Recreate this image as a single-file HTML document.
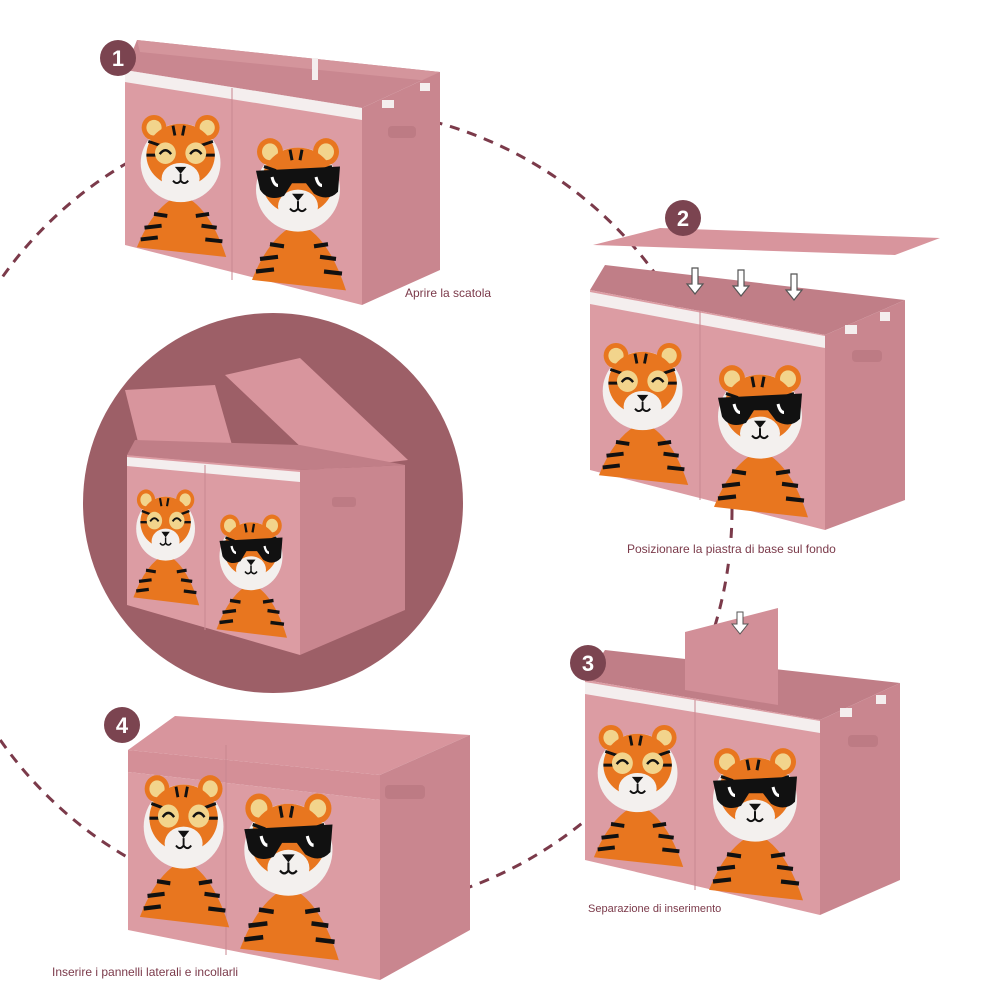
<!DOCTYPE html>
<html><head><meta charset="utf-8"><style>
html,body{margin:0;padding:0;background:#fff}
svg{display:block}
text{font-family:"Liberation Sans",sans-serif}
</style></head><body>
<svg width="1001" height="1001" viewBox="0 0 1001 1001" xmlns="http://www.w3.org/2000/svg">
<defs>
<g id="tb">
 <path d="M2,138 Q20,95 48,84 Q78,95 96,148 Z" fill="#e8761f"/>
 <path d="M10,118 L28,116 M6,130 L24,128 M86,118 L70,116 M92,132 L74,130 M20,104 L34,106 M78,104 L64,106" stroke="#111" stroke-width="4"/>
 <ellipse cx="48" cy="52" rx="42" ry="40" fill="#f3f0ee"/>
 <circle cx="20" cy="16" r="13" fill="#e8761f"/><circle cx="20" cy="16" r="8" fill="#f2d48c"/>
 <circle cx="76" cy="16" r="13" fill="#e8761f"/><circle cx="76" cy="16" r="8" fill="#f2d48c"/>
 <ellipse cx="48" cy="44" rx="36" ry="32" fill="#e8761f"/>
 <path d="M14,30 L26,34 M12,44 L22,44 M82,30 L70,34 M84,44 L74,44 M40,14 L42,24 M52,14 L50,24" stroke="#111" stroke-width="3"/>
 <ellipse cx="48" cy="68" rx="20" ry="16" fill="#f3f0ee"/>
 <path d="M42,56 L54,56 L48,63Z" fill="#111"/>
 <path d="M48,63 L48,70 M40,70 Q44,75 48,70 Q52,75 56,70" stroke="#111" stroke-width="2" fill="none"/>
</g>
<g id="t1"><use href="#tb"/>
 <circle cx="32" cy="42" r="11" fill="#f2d48c"/><circle cx="64" cy="42" r="11" fill="#f2d48c"/>
 <path d="M26,43 Q32,35 38,43 M58,43 Q64,35 70,43" stroke="#111" stroke-width="2.5" fill="none"/></g>
<g id="t2"><use href="#tb"/>
 <path d="M6,34 L90,30 L88,54 Q78,64 64,56 L56,46 L42,46 L34,58 Q18,64 10,52 Z" fill="#111"/>
 <path d="M22,40 Q24,48 28,48 M66,40 Q68,48 72,48" stroke="#fff" stroke-width="3" fill="none"/></g>
</defs>

<circle cx="330" cy="510" r="402" fill="none" stroke="#7b3a4a" stroke-width="3" stroke-dasharray="10 8"/>
<rect x="400" y="282" width="100" height="20" fill="#fff"/>
<rect x="620" y="538" width="270" height="20" fill="#fff"/>
<rect x="580" y="898" width="150" height="18" fill="#fff"/>

<circle cx="273" cy="503" r="190" fill="#9d5f67"/>

<!-- Box 1 -->
<polygon points="137,40 440,72 362,108 125,70" fill="#c98790"/>
<polygon points="137,40 440,72 440,82 140,52" fill="#d4959c"/>
<polygon points="125,70 362,108 362,305 125,245" fill="#dc9ca3"/>
<polygon points="125,70 362,108 362,120 125,82" fill="#f4eeee"/>
<polygon points="362,108 440,72 440,270 362,305" fill="#c9868f"/>
<rect x="312" y="58" width="6" height="22" fill="#f4eeee"/>
<rect x="382" y="100" width="12" height="8" fill="#f4eeee"/><rect x="420" y="83" width="10" height="8" fill="#f4eeee"/>
<rect x="388" y="126" width="28" height="12" rx="4" fill="#bd7b84"/>
<line x1="232" y1="88" x2="232" y2="280" stroke="#c98790" stroke-width="1"/>
<use href="#t1" transform="translate(135,112) scale(0.95,0.98)"/>
<use href="#t2" transform="translate(250,135) scale(1.0,1.05)"/>
<circle cx="118" cy="58" r="18" fill="#7b4450"/>
<text x="118" y="66" font-size="22" font-weight="bold" fill="#fff" text-anchor="middle">1</text>
<text x="405" y="297" font-size="12" fill="#7b3a4a">Aprire la scatola</text>

<!-- Box 2 -->
<polygon points="593,245 660,228 940,238 895,255" fill="#d8959d"/>
<polygon points="605,265 905,300 825,335 590,290" fill="#c07e87"/>
<polygon points="590,290 825,335 825,530 590,470" fill="#dc9ca3"/>
<polygon points="590,292 825,336 825,348 590,304" fill="#f4eeee"/>
<polygon points="825,335 905,300 905,500 825,530" fill="#c9868f"/>
<rect x="845" y="325" width="12" height="9" fill="#f4eeee"/><rect x="880" y="312" width="10" height="9" fill="#f4eeee"/>
<rect x="852" y="350" width="30" height="12" rx="4" fill="#bd7b84"/>
<line x1="700" y1="310" x2="700" y2="500" stroke="#c98790"/>
<g fill="#fff" stroke="#555" stroke-width="1.2">
<path d="M692,268 h6 v16 h5 l-8,10 l-8,-10 h5z"/><path d="M738,270 h6 v16 h5 l-8,10 l-8,-10 h5z"/><path d="M791,274 h6 v16 h5 l-8,10 l-8,-10 h5z"/></g>
<use href="#t1" transform="translate(597,340) scale(0.95,0.98)"/>
<use href="#t2" transform="translate(712,362) scale(1.0,1.05)"/>
<circle cx="683" cy="218" r="18" fill="#7b4450"/>
<text x="683" y="226" font-size="22" font-weight="bold" fill="#fff" text-anchor="middle">2</text>
<text x="627" y="553" font-size="12" fill="#7b3a4a">Posizionare la piastra di base sul fondo</text>

<!-- Box 3 -->
<polygon points="605,650 900,683 820,720 585,680" fill="#c07e87"/>
<polygon points="685,632 778,608 778,705 685,690" fill="#d28f98"/>
<polygon points="585,680 820,720 820,915 585,860" fill="#dc9ca3"/>
<polygon points="585,682 820,721 820,733 585,694" fill="#f4eeee"/>
<polygon points="820,720 900,683 900,880 820,915" fill="#c9868f"/>
<rect x="840" y="708" width="12" height="9" fill="#f4eeee"/><rect x="876" y="695" width="10" height="9" fill="#f4eeee"/>
<rect x="848" y="735" width="30" height="12" rx="4" fill="#bd7b84"/>
<path d="M737,612 h6 v12 h5 l-8,10 l-8,-10 h5z" fill="#fff" stroke="#555"/>
<line x1="695" y1="700" x2="695" y2="890" stroke="#c98790"/>
<use href="#t1" transform="translate(592,722) scale(0.95,0.98)"/>
<use href="#t2" transform="translate(707,745) scale(1.0,1.05)"/>
<circle cx="588" cy="663" r="18" fill="#7b4450"/>
<text x="588" y="671" font-size="22" font-weight="bold" fill="#fff" text-anchor="middle">3</text>
<text x="588" y="912" font-size="11" fill="#7b3a4a">Separazione di inserimento</text>

<!-- Box 4 -->
<polygon points="128,750 175,716 470,735 380,775" fill="#d8959d"/>
<polygon points="128,750 380,775 380,800 128,772" fill="#d48f97"/>
<polygon points="128,772 380,800 380,980 128,930" fill="#dc9ca3"/>
<polygon points="380,775 470,735 470,930 380,980" fill="#c9868f"/>
<rect x="385" y="785" width="40" height="14" rx="4" fill="#bd7b84"/>
<line x1="226" y1="745" x2="226" y2="955" stroke="#c98790"/>
<use href="#t1" transform="translate(138,772) scale(0.95,1.05)"/>
<use href="#t2" transform="translate(238,790) scale(1.05,1.15)"/>
<circle cx="122" cy="725" r="18" fill="#7b4450"/>
<text x="122" y="733" font-size="22" font-weight="bold" fill="#fff" text-anchor="middle">4</text>
<text x="52" y="976" font-size="12" fill="#7b3a4a">Inserire i pannelli laterali e incollarli</text>

<!-- Box in circle -->
<polygon points="125,390 215,385 232,445 140,450" fill="#d8959d"/>
<polygon points="225,375 300,358 408,460 325,470" fill="#d8959d"/>
<polygon points="127,455 300,470 405,465 300,445 135,440" fill="#c07e87"/>
<polygon points="127,455 300,470 300,655 127,605" fill="#dc9ca3"/>
<polygon points="127,457 300,472 300,482 127,466" fill="#f4eeee"/>
<polygon points="300,470 405,465 405,610 300,655" fill="#c9868f"/>
<rect x="332" y="497" width="24" height="10" rx="3" fill="#bd7b84"/>
<line x1="205" y1="465" x2="205" y2="630" stroke="#c98790"/>
<use href="#t1" transform="translate(132,487) scale(0.7,0.8)"/>
<use href="#t2" transform="translate(215,512) scale(0.75,0.85)"/>
</svg>
</body></html>
